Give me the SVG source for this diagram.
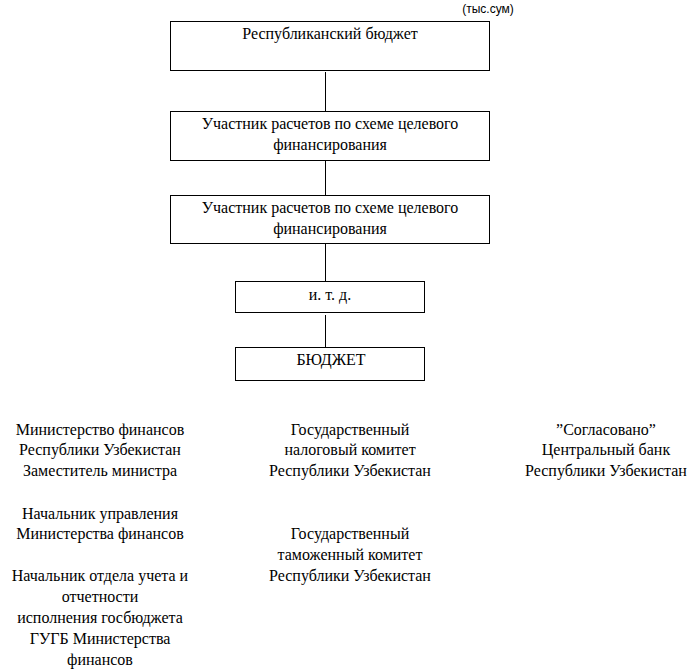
<svg xmlns="http://www.w3.org/2000/svg" width="694" height="670" viewBox="0 0 694 670">
<style>
.box{fill:#fff;stroke:#000;stroke-width:1}
.t{font-family:'Liberation Serif','DejaVu Serif',serif;font-size:16px;fill:#000;text-anchor:middle}
.s{font-family:'Liberation Sans',Arial,sans-serif;font-size:12px;fill:#000;text-anchor:middle}
.c{stroke:#000;stroke-width:1;fill:none}
</style>
<rect width="694" height="670" fill="#fff"/>
<text class="s" x="488" y="13">(тыс.сум)</text>
<g id="connectors">
<line class="c" x1="325.5" y1="72" x2="325.5" y2="111"/>
<line class="c" x1="325.5" y1="160" x2="325.5" y2="195"/>
<line class="c" x1="325.5" y1="243" x2="325.5" y2="281"/>
<line class="c" x1="325.5" y1="315" x2="325.5" y2="347"/>
</g>
<g id="n1">
<rect class="box" x="170.5" y="21.5" width="319" height="49"/>
<text class="t" x="330" y="39">Республиканский бюджет</text>
</g>
<g id="n2">
<rect class="box" x="170.5" y="111.5" width="319" height="49"/>
<text class="t" x="330" y="129">Участник расчетов по схеме целевого</text>
<text class="t" x="330" y="150">финансирования</text>
</g>
<g id="n3">
<rect class="box" x="170.5" y="195.5" width="319" height="48"/>
<text class="t" x="330" y="213">Участник расчетов по схеме целевого</text>
<text class="t" x="330" y="234">финансирования</text>
</g>
<g id="n4">
<rect class="box" x="235.5" y="281.5" width="189" height="31"/>
<text class="t" x="330" y="300">и. т. д.</text>
</g>
<g id="n5">
<rect class="box" x="235.5" y="347.5" width="189" height="33"/>
<text class="t" x="331" y="365">БЮДЖЕТ</text>
</g>
<g id="signatures">
<text class="t" x="100" y="435">Министерство финансов</text>
<text class="t" x="100" y="455">Республики Узбекистан</text>
<text class="t" x="100" y="476">Заместитель министра</text>
<text class="t" x="100" y="519">Начальник управления</text>
<text class="t" x="100" y="539">Министерства финансов</text>
<text class="t" x="100" y="581">Начальник отдела учета и</text>
<text class="t" x="100" y="602">отчетности</text>
<text class="t" x="100" y="623">исполнения госбюджета</text>
<text class="t" x="100" y="644">ГУГБ Министерства</text>
<text class="t" x="100" y="665">финансов</text>
<text class="t" x="350" y="435">Государственный</text>
<text class="t" x="350" y="455">налоговый комитет</text>
<text class="t" x="350" y="476">Республики Узбекистан</text>
<text class="t" x="350" y="539">Государственный</text>
<text class="t" x="350" y="560">таможенный комитет</text>
<text class="t" x="350" y="581">Республики Узбекистан</text>
<text class="t" x="606" y="435">”Согласовано”</text>
<text class="t" x="606" y="455">Центральный банк</text>
<text class="t" x="606" y="476">Республики Узбекистан</text>
</g>
</svg>
